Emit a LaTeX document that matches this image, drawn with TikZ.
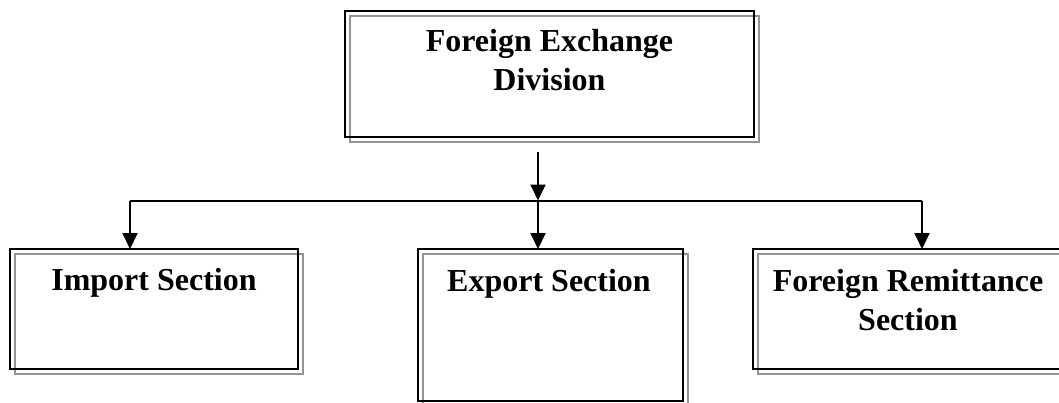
\documentclass[tikz,border=0pt]{standalone}
\usepackage{fontspec}
\setmainfont{Liberation Serif}
\usetikzlibrary{arrows.meta,backgrounds}

\tikzset{
  unitbox/.style={draw=black, line width=2pt, inner sep=0pt, outer sep=0pt, rectangle},
  boxshade/.style={draw=black!42, line width=1.8pt},
  boxlabel/.style={anchor=north, inner sep=0pt, align=center,
    font=\bfseries\fontsize{32}{39}\selectfont},
  wire/.style={line width=2pt},
  flow/.style={line width=2pt, -{Triangle[width=15pt,length=16pt]}},
}

\newcommand{\shadebox}[1]{%
  \begin{scope}[on background layer]
    \draw[boxshade] ([shift={(5,5)}]#1.north west) rectangle ([shift={(5,5)}]#1.south east);
  \end{scope}}

\begin{document}
\begin{tikzpicture}[x=1pt,y=-1pt]
  \path[use as bounding box] (0,0) rectangle (1059,402);

  % division and its three sections
  \node[unitbox, minimum width=409pt, minimum height=126pt] (div) at (549.5,74) {};
  \node[unitbox, minimum width=288pt, minimum height=120pt] (imp) at (154,309) {};
  \node[unitbox, minimum width=265pt, minimum height=151.5pt] (exp) at (550.5,324.75) {};
  \node[unitbox, minimum width=330pt, minimum height=120pt] (rem) at (918,309) {};

  \shadebox{div}
  \shadebox{imp}
  \shadebox{exp}
  \shadebox{rem}

  % titles
  \node[boxlabel] (divt) at (549.5,29) {Foreign Exchange\\Division};
  \node[boxlabel] (impt) at (154,268) {Import Section};
  \node[boxlabel] (expt) at (549,269) {Export Section};
  \node[boxlabel] (remt) at (908,269) {Foreign Remittance\\Section};

  % connectors
  \coordinate (src) at (538,152);
  \coordinate (mid) at (538,200.5);
  \coordinate (lft) at (130,200.5);
  \coordinate (rgt) at (922,200.5);

  \draw[flow] (src) -- (mid);
  \draw[wire] (lft) -- (rgt);
  \draw[flow] (lft) -- (lft |- imp.north);
  \draw[flow] (mid) -- (mid |- exp.north);
  \draw[flow] (rgt) -- (rgt |- rem.north);
\end{tikzpicture}
\end{document}
